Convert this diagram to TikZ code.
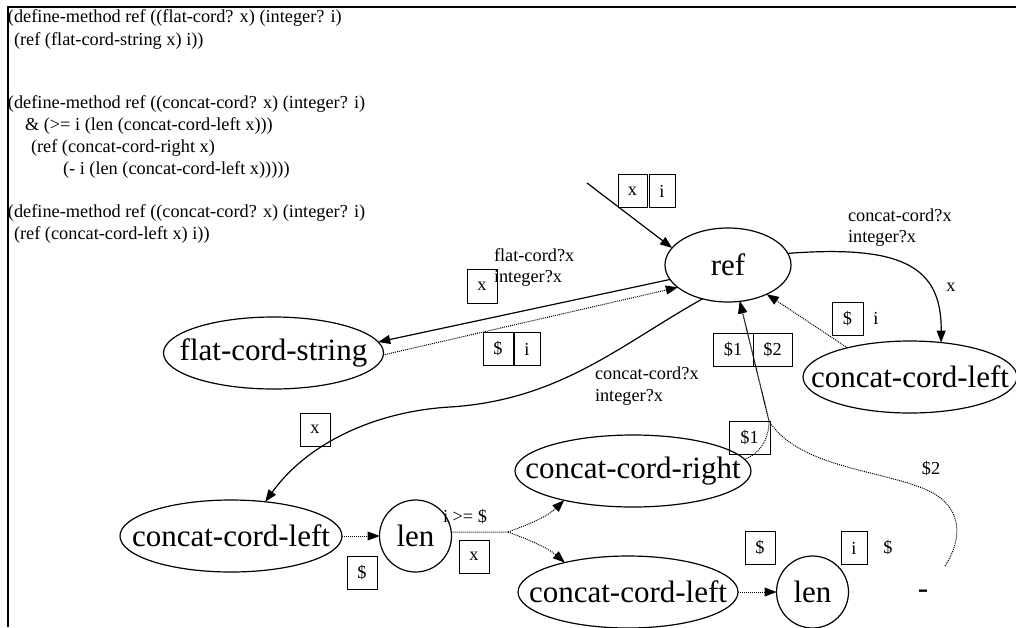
\documentclass[tikz,border=0pt]{standalone}
\usepackage{fontspec}
\setmainfont[Ligatures={NoCommon}]{Liberation Serif}
\usetikzlibrary{shapes.geometric,arrows.meta}
\newcommand{\smallfnt}{\fontsize{18.3pt}{22pt}\selectfont}
\newcommand{\bigfnt}{\fontsize{31pt}{36pt}\selectfont}
\begin{document}
\begin{tikzpicture}[x=1pt,y=-1pt,
  every node/.style={inner sep=0pt, outer sep=0pt},
  ell/.style={draw, ellipse, line width=1.2pt, font=\bigfnt},
  circ/.style={draw, circle, line width=1.2pt, font=\bigfnt, minimum size=72pt},
  lbl/.style={font=\smallfnt},
  bx/.style={draw, line width=1pt, minimum height=33pt, font=\smallfnt},
  code/.style={font=\smallfnt, anchor=base west},
  edge/.style={line width=1.2pt, -{Triangle[length=12pt,width=9pt]}},
  dedge/.style={line width=1pt, densely dotted, -{Triangle[length=12pt,width=9pt]}},
  dline/.style={line width=1pt, densely dotted}]
\useasboundingbox (0,0) rectangle (1016,627);
% frame
\draw[line width=2.8pt] (8,627) -- (8,7) -- (1016,7);
% code text
\node[code] at (8,22) {(define-method ref ((flat-cord? x) (integer? i)};
\node[code] at (14,45) {(ref (flat-cord-string x) i))};
\node[code] at (8,108) {(define-method ref ((concat-cord? x) (integer? i)};
\node[code] at (25,130) {\& (>= i (len (concat-cord-left x)))};
\node[code] at (31,152) {(ref (concat-cord-right x)};
\node[code] at (63,174) {(- i (len (concat-cord-left x)))))};
\node[code] at (8,217) {(define-method ref ((concat-cord? x) (integer? i)};
\node[code] at (14,239) {(ref (concat-cord-left x) i))};
% nodes
\node[ell, minimum width=126pt, minimum height=74pt] (ref) at (728,265) {\makebox[0pt]{ref}};
\node[ell, minimum width=220pt, minimum height=72pt] (fcs) at (273.5,353) {\makebox[0pt]{flat-cord-string}};
\node[ell, minimum width=214pt, minimum height=72pt] (ccl1) at (910,377) {\makebox[0pt]{concat-cord-left}};
\node[ell, minimum width=222pt, minimum height=72pt] (ccl2) at (231,536) {\makebox[0pt]{concat-cord-left}};
\node[circ] (len1) at (415.5,536) {\makebox[0pt]{len}};
\node[ell, minimum width=236pt, minimum height=72pt] (ccr) at (633,471) {\makebox[0pt]{concat-cord-right}};
\node[ell, minimum width=220pt, minimum height=72pt] (ccl3) at (628,592) {\makebox[0pt]{concat-cord-left}};
\node[circ] (len2) at (812.5,592) {\makebox[0pt]{len}};
\node[font=\bigfnt, minimum width=44pt, minimum height=56pt] (minus) at (923,594) {\makebox[0pt]{-}};
% coordinates
\coordinate (in) at (587,183);
\coordinate (fk) at (508,532);
\coordinate (j) at (769,421);
% edges
\draw[edge] (in) -- (ref.163);
\draw[edge] (ref.194) -- (fcs.6);
\draw[dedge] (fcs.-1) -- (ref.204);
\draw[edge] (ref.11) .. controls (900,245) and (942,265) .. (ccl1.48);
\draw[dedge] (ccl1.155) -- (ref.-37);
\draw[edge] (ref.233) .. controls (620,345) and (560,400) .. (450,407)
  .. controls (380,411) and (310,440) .. (ccl2.45);
\draw[dedge] (ccl2.east) -- (len1.west);
\draw[dline] (len1.6) -- (fk);
\draw[dedge] (fk) .. controls (530,524) and (548,516) .. (ccr.203);
\draw[dedge] (fk) .. controls (530,540) and (548,548) .. (ccl3.155);
\draw[dedge] (ccl3.east) -- (len2.west);
\draw[dedge] (ccr.6) .. controls (757,455) and (769,442) .. (j) -- (ref.-72);
\draw[dedge] (minus.north east) .. controls (962,540) and (963,510) .. (933,493)
  .. controls (890,470) and (800,470) .. (j) -- (ref.-72);
% boxes
\node[bx, minimum width=29pt] at (632.5,191) {x};
\node[bx, minimum width=26pt] at (662,191) {i};
\node[bx, minimum width=30pt, minimum height=34pt] at (482,286) {x};
\node[bx, minimum width=30pt] at (498,349) {\$};
\node[bx, minimum width=26pt] at (527,349) {i};
\node[bx, minimum width=40pt] at (733,349.5) {\$1};
\node[bx, minimum width=39pt] at (772.5,349.5) {\$2};
\node[bx, minimum width=31pt] at (847.5,318.5) {\$};
\node[bx, minimum width=41pt] at (749.5,437.5) {\$1};
\node[bx, minimum width=30pt] at (315,429.5) {x};
\node[bx, minimum width=30pt] at (362,572.5) {\$};
\node[bx, minimum width=30pt] at (474,556.5) {x};
\node[bx, minimum width=30pt] at (760,548) {\$};
\node[bx, minimum width=26pt] at (854,548) {i};
% labels
\node[lbl, anchor=west] at (494,255) {flat-cord?x};
\node[lbl, anchor=west] at (494,278) {integer?x};
\node[lbl, anchor=west] at (848,215) {concat-cord?x};
\node[lbl, anchor=west] at (848,238) {integer?x};
\node[lbl] at (951,287) {x};
\node[lbl, anchor=west] at (595,373) {concat-cord?x};
\node[lbl, anchor=west] at (595,397) {integer?x};
\node[lbl, anchor=west] at (443,517) {i >= \$};
\node[lbl] at (876,318) {i};
\node[lbl] at (888,548) {\$};
\node[lbl] at (931,469) {\$2};
\end{tikzpicture}
\end{document}
